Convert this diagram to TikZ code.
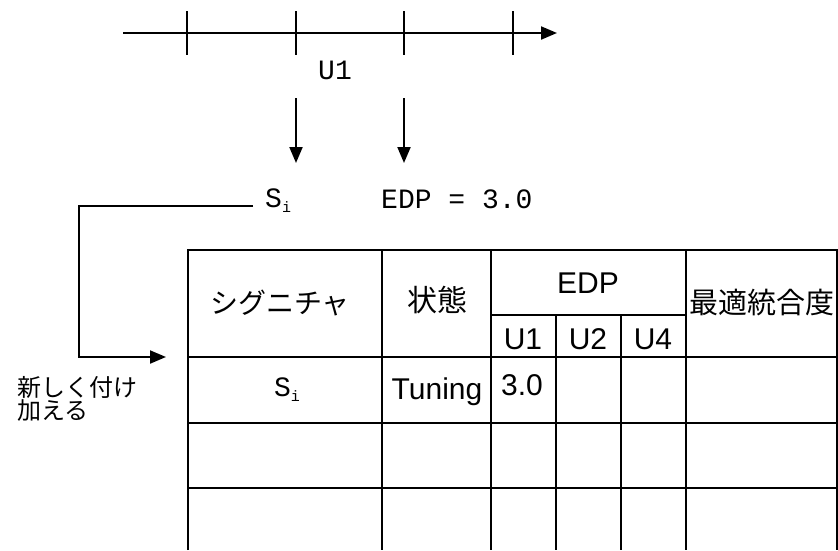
\documentclass[tikz,border=0pt]{standalone}
\usepackage{fontspec}
\setmainfont{Liberation Sans}
\newfontfamily\jp{Noto Sans CJK JP}
\newfontfamily\mono{Liberation Mono}
\usetikzlibrary{arrows.meta}
\newcommand{\sub}[1]{\raisebox{-5pt}{\fontsize{15}{15}\selectfont #1}}
\begin{document}
\begin{tikzpicture}[x=1pt,y=-1pt,
  ln/.style={line width=2pt},
  arr/.style={line width=2pt,-{Triangle[length=16pt,width=13pt]}},
  sans/.style={font=\fontsize{30}{34}\selectfont, inner sep=0pt},
  jpt/.style={font=\jp\fontsize{28}{32}\selectfont, inner sep=0pt},
  mtxt/.style={font=\mono\fontsize{28}{30}\selectfont, inner sep=0pt, anchor=west}]
\useasboundingbox (0,0) rectangle (838,550);
% time axis
\coordinate (ax0) at (123,33);
\coordinate (ax1) at (557,33);
\draw[arr] (ax0) -- (ax1);
\foreach \x/\n in {187/t1,296/t2,404/t3,513/t4}{
  \coordinate (\n) at (\x,33);
  \draw[ln] (\x,11) -- (\x,55);
}
\node[mtxt, anchor=center] (u1) at (335,70) {U1};
% down arrows
\coordinate (d1a) at (296,98);
\coordinate (d1b) at (296,163);
\coordinate (d2a) at (404,98);
\coordinate (d2b) at (404,163);
\draw[arr] (d1a) -- (d1b);
\draw[arr] (d2a) -- (d2b);
% S_i and EDP
\node[mtxt] (si) at (265,201) {S\sub{i}};
\node[mtxt] (edp) at (381,199) {EDP = 3.0};
\coordinate (tip) at (166,357);
\coordinate (c0) at (253,206);
\draw[arr] (c0) -- (79,206) -- (79,357) -- (tip);
% label
\node[font=\jp\fontsize{24}{25}\selectfont, inner sep=0pt, anchor=west, align=left] (add) at (17,399) {新しく付け\\[-2pt]加える};
% table
\draw[ln] (188,550) -- (188,250) -- (838,250);
\draw[ln] (382,250) -- (382,550);
\draw[ln] (491,250) -- (491,550);
\draw[ln] (686,250) -- (686,550);
\draw[ln] (837,250) -- (837,550);
\draw[ln] (556,315) -- (556,550);
\draw[ln] (621,315) -- (621,550);
\draw[ln] (491,315) -- (686,315);
\draw[ln] (188,357) -- (838,357);
\draw[ln] (188,423) -- (838,423);
\draw[ln] (188,488) -- (838,488);
% header texts
\node[jpt] (h1) at (280,303) {シグニチャ};
\node[jpt, font=\jp\fontsize{30}{32}\selectfont] (h2) at (437,300) {状態};
\node[sans] (h3) at (588,283) {EDP};
\node[sans] (h4) at (523,339) {U1};
\node[sans] (h5) at (588,339) {U2};
\node[sans] (h6) at (653,339) {U4};
\node[jpt, font=\jp\fontsize{29}{32}\selectfont] (h7) at (762,303) {最適統合度};
% row 1
\node[mtxt, anchor=center] (r1) at (287,390) {S\sub{i}};
\node[sans] (r2) at (437,392) {Tuning};
\node[sans] (r3) at (522,385) {3.0};
\end{tikzpicture}
\end{document}
